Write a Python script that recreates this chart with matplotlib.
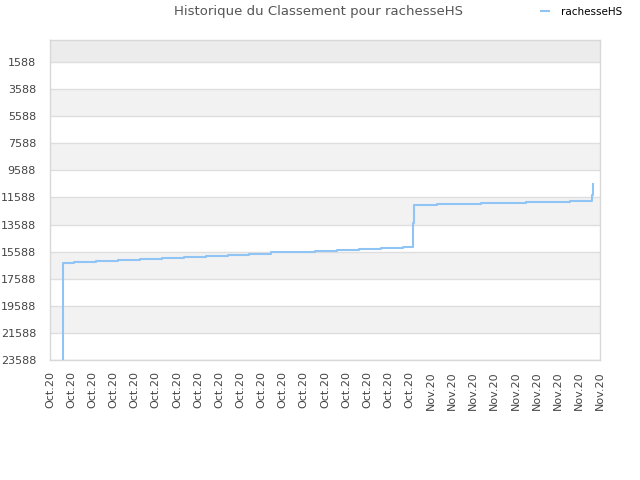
import matplotlib
matplotlib.use("Agg")
import matplotlib.pyplot as plt

# tick labels (evenly spaced date ticks)
tick_labels = ["Oct.20"] * 18 + ["Nov.20"] * 9

# step positions (in tick-index units) and rank values
x_pos = [0.60, 0.60, 1.13, 2.17, 3.21, 4.25, 5.29, 6.33, 7.37, 8.41, 9.41,
         10.45, 11.49, 12.53, 13.57, 14.61, 15.65, 16.69, 17.16, 17.22,
         18.29, 20.37, 22.50, 24.58, 25.62, 25.66]
ranks = [23700, 16428, 16350, 16270, 16190, 16110, 16030, 15950, 15880,
         15800, 15730, 15650, 15580, 15510, 15440, 15370, 15300, 15224,
         13500, 12124, 12050, 11976, 11902, 11828, 11400, 10617]

y_ticks = [1588, 3588, 5588, 7588, 9588, 11588, 13588, 15588, 17588, 19588,
           21588, 23588]

fig = plt.figure(figsize=(6.4, 4.8), dpi=100)
ax = fig.add_axes([50/640, 120/480, 550/640, 320/480])

ymin_top = -36
ymax_bot = 23588
# background bands
ax.axhspan(ymin_top, 1588, color="#ececec", zorder=0, lw=0)
for i in range(len(y_ticks) - 1):
    if i % 2 == 1:
        ax.axhspan(y_ticks[i], y_ticks[i + 1], color="#f2f2f2", zorder=0, lw=0)
for yt in y_ticks:
    ax.axhline(yt, color="#dedede", lw=1, zorder=1)

ax.plot(x_pos, ranks, drawstyle="steps-post", color="#90c4f5", lw=1.5,
        zorder=3, label="rachesseHS")

ax.set_xlim(0, 26)
ax.set_ylim(ymax_bot, ymin_top)
ax.set_yticks(y_ticks)
ax.set_yticklabels([str(v) for v in y_ticks])
ax.set_xticks(range(len(tick_labels)))
ax.set_xticklabels(tick_labels, rotation=90)
ax.tick_params(axis="both", length=0, labelsize=8, labelcolor="#444444")
ax.tick_params(axis="x", pad=8)
ax.tick_params(axis="y", pad=10)
for s in ax.spines.values():
    s.set_color("#d8d8d8")
    s.set_linewidth(1)

fig.text(318/640, 1 - 12/480, "Historique du Classement pour rachesseHS",
         ha="center", va="center", fontsize=9.5, color="#555555")
fig.legend(loc="center", bbox_to_anchor=(582/640, 1 - 12/480), frameon=False,
           fontsize=7.5, handlelength=0.7, handletextpad=1.2)

fig.savefig("out.png", dpi=100)
